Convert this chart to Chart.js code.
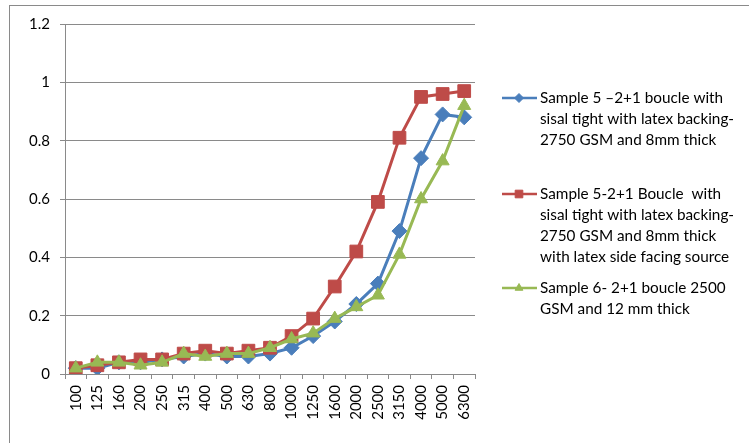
<!DOCTYPE html>
<html>
<head>
<meta charset="utf-8">
<script src="https://cdn.jsdelivr.net/npm/chart.js@4/dist/chart.umd.min.js"></script>
<style>
  html, body { margin: 0; padding: 0; background: #fff; }
  #frame { position: absolute; left: 9px; top: 5px; width: 760px; height: 460px;
           border-left: 1px solid #8a8a8a; border-top: 1px solid #8a8a8a; }
  #wrap { position: absolute; left: 0; top: 0; width: 749px; height: 443px; }
</style>
</head>
<body>
<div id="frame"></div>
<div id="wrap"><canvas id="c" width="749" height="443"></canvas></div>
<script>
// Frequency bands (Hz)
const frequencies = ['100','125','160','200','250','315','400','500','630','800',
                     '1000','1250','1600','2000','2500','3150','4000','5000','6300'];

// Absorption coefficients per sample
const sample5 = [0.02,0.02,0.04,0.04,0.05,0.06,0.07,0.06,0.06,0.07,
                 0.09,0.13,0.18,0.24,0.31,0.49,0.74,0.89,0.88];
const sample5LatexFacing = [0.02,0.03,0.04,0.05,0.05,0.07,0.08,0.07,0.08,0.09,
                            0.13,0.19,0.30,0.42,0.59,0.81,0.95,0.96,0.97];
const sample6 = [0.02,0.04,0.04,0.03,0.04,0.07,0.06,0.07,0.07,0.09,
                 0.12,0.14,0.19,0.23,0.27,0.41,0.60,0.73,0.92];

// Legend text, one entry per line
const legendLines = [
  ['Sample 5 \u20132+1 boucle with', 'sisal tight with latex backing-', '2750 GSM and 8mm thick'],
  ['Sample 5-2+1 Boucle  with', 'sisal tight with latex backing-', '2750 GSM and 8mm thick', 'with latex side facing source'],
  ['Sample 6- 2+1 boucle 2500', 'GSM and 12 mm thick']
];

const yTicks = [0, 0.2, 0.4, 0.6, 0.8, 1, 1.2];

const FONT = 'Lato, "Open Sans", sans-serif';
const BLUE = '#4a7ebb', RED = '#be4b48', GREEN = '#98b954';

// Side legend drawn next to the plot, markers matching each series
const sideLegend = {
  id: 'sideLegend',
  afterDraw(chart) {
    const ctx = chart.ctx;
    const tops = [98, 194, 288];
    const lineH = 21;
    ctx.save();
    chart.data.datasets.forEach((ds, i) => {
      const y = tops[i];
      ctx.strokeStyle = ds.borderColor;
      ctx.lineWidth = 2.5;
      ctx.beginPath();
      ctx.moveTo(502, y);
      ctx.lineTo(537, y);
      ctx.stroke();
      ctx.fillStyle = ds.backgroundColor;
      ctx.strokeStyle = ds.borderColor;
      ctx.lineWidth = 1;
      Chart.helpers.drawPoint(ctx, { pointStyle: ds.pointStyle, radius: ds.pointRadius * 0.6, borderWidth: 1 }, 519, y);
      ctx.fillStyle = '#000';
      ctx.font = '15.3px ' + FONT;
      ctx.textAlign = 'left';
      ctx.textBaseline = 'middle';
      legendLines[i].forEach((t, k) => ctx.fillText(t, 540, y + k * lineH));
    });
    ctx.restore();
  }
};

new Chart(document.getElementById('c'), {
  type: 'line',
  data: {
    labels: frequencies,
    datasets: [
      { label: legendLines[0].join(' '), data: sample5, borderColor: BLUE, backgroundColor: BLUE, order: 2,
        pointStyle: 'rectRot', pointRadius: 7.5, borderWidth: 3, pointBorderWidth: 1 },
      { label: legendLines[1].join(' '), data: sample5LatexFacing, borderColor: RED, backgroundColor: RED, order: 1,
        pointStyle: 'rect', pointRadius: 9, borderWidth: 3, pointBorderWidth: 1 },
      { label: legendLines[2].join(' '), data: sample6, borderColor: GREEN, backgroundColor: GREEN, order: 0,
        pointStyle: 'triangle', pointRadius: 7.5, borderWidth: 3, pointBorderWidth: 1 }
    ]
  },
  options: {
    responsive: false,
    animation: false,
    layout: { padding: { top: 24, right: 274, left: 0, bottom: 0 } },
    plugins: { legend: { display: false }, tooltip: { enabled: false } },
    elements: { line: { tension: 0 } },
    scales: {
      x: {
        offset: true,
        grid: { offset: true, drawOnChartArea: false, drawTicks: true, tickLength: 5, color: '#8a8a8a' },
        border: { color: '#8a8a8a', width: 1 },
        ticks: { autoSkip: false, maxRotation: 90, minRotation: 90, padding: 6,
                 color: '#000', font: { family: FONT, size: 15 } },
        afterFit(scale) { scale.height = 69; }
      },
      y: {
        min: 0, max: 1.2,
        afterBuildTicks(scale) { scale.ticks = yTicks.map(v => ({ value: v })); },
        grid: { color: '#8a8a8a', tickLength: 5, lineWidth: 1 },
        border: { color: '#8a8a8a', width: 1 },
        ticks: { color: '#000', padding: 10, font: { family: FONT, size: 15 },
                 callback: v => String(Number(v.toFixed(1))) },
        afterFit(scale) { scale.width = 65; }
      }
    }
  },
  plugins: [sideLegend]
});
</script>
</body>
</html>
